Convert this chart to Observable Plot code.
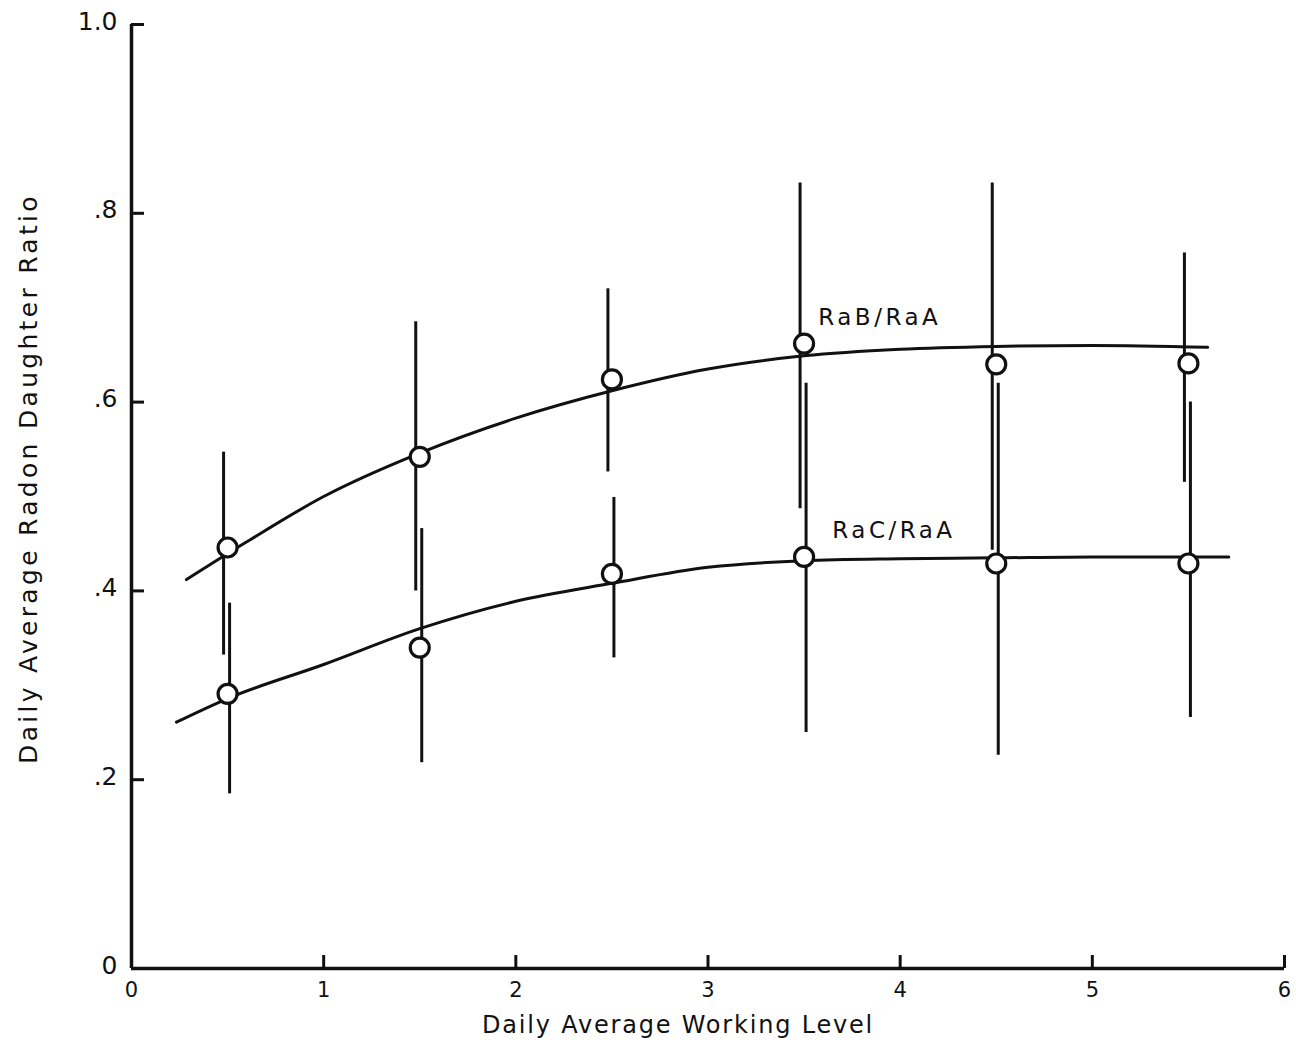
<!DOCTYPE html>
<html>
<head>
<meta charset="utf-8">
<script src="https://cdn.jsdelivr.net/npm/d3@7"></script>
<script src="https://cdn.jsdelivr.net/npm/@observablehq/plot@0.6"></script>
<style>
  html, body { margin: 0; padding: 0; background: #fff; }
  .axis-title text { letter-spacing: 1.8px; }
  .axis-title-y text { letter-spacing: 3.3px; }
  .series-label text { letter-spacing: 3.5px; }
</style>
</head>
<body>
<script>
// Daily average working level (x) at which each ratio was measured
const levels = [0.5, 1.5, 2.5, 3.5, 4.5, 5.5];

// RaB/RaA ratio: mean and error-bar extent
const rabMean = [0.446, 0.542, 0.624, 0.662, 0.640, 0.641];
const rabLow  = [0.332, 0.400, 0.526, 0.487, 0.443, 0.515];
const rabHigh = [0.547, 0.685, 0.720, 0.832, 0.832, 0.758];

// RaC/RaA ratio: mean and error-bar extent
const racMean = [0.291, 0.340, 0.418, 0.436, 0.429, 0.429];
const racLow  = [0.185, 0.218, 0.329, 0.250, 0.226, 0.266];
const racHigh = [0.387, 0.466, 0.499, 0.620, 0.620, 0.600];

// Hand-fitted trend curves
const rabFitX = [0.286, 0.6, 1.0, 1.5, 2.0, 2.5, 3.0, 3.5, 4.0, 4.5, 5.0, 5.6];
const rabFitY = [0.412, 0.452, 0.500, 0.546, 0.583, 0.612, 0.635, 0.649, 0.656, 0.659, 0.660, 0.658];
const racFitX = [0.234, 0.5, 1.0, 1.5, 2.0, 2.5, 3.0, 3.5, 4.0, 4.5, 5.0, 5.71];
const racFitY = [0.261, 0.286, 0.322, 0.360, 0.389, 0.408, 0.425, 0.432, 0.434, 0.435, 0.436, 0.436];

// Axis ticks and their printed labels
const xTicks = [0, 1, 2, 3, 4, 5, 6];
const xTickLabels = ["0", "1", "2", "3", "4", "5", "6"];
const yTicks = [0, 0.2, 0.4, 0.6, 0.8, 1.0];
const yTickLabels = ["0", ".2", ".4", ".6", ".8", "1.0"];

// Curve labels
const seriesNames = ["RaB/RaA", "RaC/RaA"];
const seriesLabelX = [3.574, 3.647];
const seriesLabelY = [0.690, 0.464];

const xTitle = "Daily Average Working Level";
const yTitle = "Daily Average Radon Daughter Ratio";

// Tables built from the arrays above
const rab = levels.map((x, i) => ({x, mean: rabMean[i], lo: rabLow[i], hi: rabHigh[i]}));
const rac = levels.map((x, i) => ({x, mean: racMean[i], lo: racLow[i], hi: racHigh[i]}));
const rabFit = rabFitX.map((x, i) => ({x, y: rabFitY[i]}));
const racFit = racFitX.map((x, i) => ({x, y: racFitY[i]}));
const labels = seriesNames.map((text, i) => ({text, x: seriesLabelX[i], y: seriesLabelY[i]}));

const W = 1296, H = 1043;
const mL = 131, mR = 12, mT = 24, mB = 75;
const plotW = W - mL - mR, plotH = H - mT - mB;
const tickLen = 13;
const ink = "#111";

const chart = Plot.plot({
  width: W,
  height: H,
  marginLeft: mL,
  marginRight: mR,
  marginTop: mT,
  marginBottom: mB,
  style: {fontFamily: "DejaVu Sans", background: "#fff", color: ink},
  x: {domain: [0, 6], axis: null},
  y: {domain: [0, 1], axis: null},
  marks: [
    // axis frame (left and bottom)
    Plot.ruleX([0], {y1: 0, y2: 1, stroke: ink, strokeWidth: 3.5}),
    Plot.ruleY([0], {x1: 0, x2: 6, stroke: ink, strokeWidth: 3.5}),
    // inward-pointing ticks
    Plot.tickY(yTicks.filter(d => d > 0), {y: d => d, insetRight: plotW - tickLen, stroke: ink, strokeWidth: 3}),
    Plot.tickX(xTicks.filter(d => d > 0), {x: d => d, insetTop: plotH - tickLen, stroke: ink, strokeWidth: 3}),
    // tick labels
    Plot.axisY(yTicks, {tickSize: 0, tickPadding: 14, dy: -3, fontSize: 25, label: null,
      tickFormat: d => yTickLabels[yTicks.indexOf(d)]}),
    Plot.axisX(xTicks, {tickSize: 0, tickPadding: 14, fontSize: 21, label: null,
      tickFormat: d => xTickLabels[xTicks.indexOf(d)]}),
    // axis titles
    Plot.text([xTitle], {frameAnchor: "bottom", textAnchor: "middle", lineAnchor: "middle",
      dx: -30, dy: 57, fontSize: 24, fill: ink, className: "axis-title"}),
    Plot.text([yTitle], {frameAnchor: "left", textAnchor: "middle", lineAnchor: "middle", rotate: -90,
      dx: -103, dy: -18, fontSize: 25, fill: ink, className: "axis-title-y"}),
    // fitted curves
    Plot.line(rabFit, {x: "x", y: "y", curve: "monotone-x", stroke: ink, strokeWidth: 3}),
    Plot.line(racFit, {x: "x", y: "y", curve: "monotone-x", stroke: ink, strokeWidth: 3}),
    // error bars
    Plot.ruleX(rab, {x: "x", y1: "lo", y2: "hi", dx: -4, stroke: ink, strokeWidth: 3}),
    Plot.ruleX(rac, {x: "x", y1: "lo", y2: "hi", dx: 2, stroke: ink, strokeWidth: 3}),
    // mean values
    Plot.dot(rab, {x: "x", y: "mean", r: 9.5, fill: "#fff", stroke: ink, strokeWidth: 3.2}),
    Plot.dot(rac, {x: "x", y: "mean", r: 9.5, fill: "#fff", stroke: ink, strokeWidth: 3.2}),
    // curve labels
    Plot.text(labels, {x: "x", y: "y", text: "text", textAnchor: "start", fontSize: 23, fill: ink, className: "series-label"})
  ]
});

document.body.appendChild(chart);
</script>
</body>
</html>
